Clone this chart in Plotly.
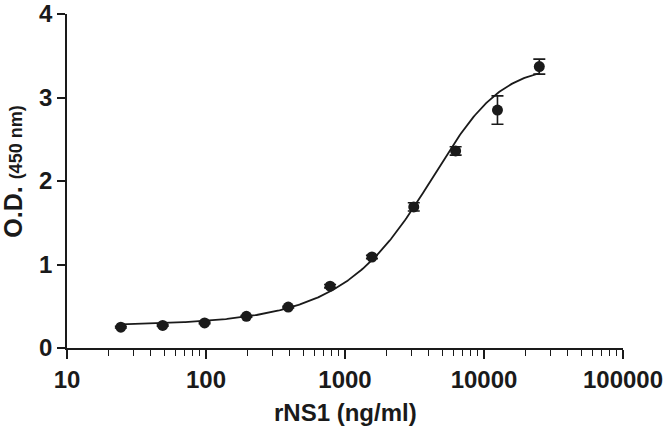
import numpy as np
import plotly.graph_objects as go

# Data
conc = [24.4, 48.8, 97.7, 195.3, 390.6, 781.3, 1562.5, 3125, 6250, 12500, 25000]
od = [0.25, 0.27, 0.30, 0.38, 0.49, 0.74, 1.09, 1.69, 2.36, 2.85, 3.37]
od_err = [0.01, 0.01, 0.01, 0.01, 0.01, 0.02, 0.02, 0.05, 0.05, 0.17, 0.09]
x_ticks = [10, 100, 1000, 10000, 100000]
y_ticks = [0, 1, 2, 3, 4]

# Five-parameter logistic fit parameters (estimated)
fit_bottom = 0.27
fit_top = 3.39
fit_c = 6250.0
fit_hill = 1.95
fit_asym = 0.5

xs = np.logspace(np.log10(conc[0]), np.log10(conc[-1]), 300)
ys = fit_bottom + (fit_top - fit_bottom) / (1 + (fit_c / xs) ** fit_hill) ** fit_asym

INK = "#1a1a1a"
FONT = "Liberation Sans, Arial, sans-serif"

fig = go.Figure()
fig.add_trace(go.Scatter(x=xs, y=ys, mode="lines",
                         line=dict(color=INK, width=1.8), hoverinfo="skip"))
fig.add_trace(go.Scatter(x=conc, y=od, mode="markers",
                         marker=dict(color=INK, size=11),
                         error_y=dict(type="data", array=od_err, color=INK,
                                      thickness=1.6, width=6)))

fig.update_layout(
    width=666, height=430,
    margin=dict(l=67, r=43, t=14, b=82),
    paper_bgcolor="white", plot_bgcolor="white",
    showlegend=False,
    font=dict(family=FONT, color=INK),
)
fig.update_xaxes(
    type="log", range=[1, 5], automargin=False,
    showgrid=False, zeroline=False,
    showline=True, linecolor=INK, linewidth=1.6,
    ticks="outside", ticklen=9, tickwidth=1.6, tickcolor=INK,
    tickvals=x_ticks,
    ticktext=[f"<b>{v}</b>" for v in x_ticks],
    tickfont=dict(size=24, family=FONT, color=INK),
    minor=dict(ticks="outside", ticklen=6, tickwidth=1.4, tickcolor=INK,
               tickvals=[v * d for d in x_ticks[:-1] for v in range(2, 10)]),
)
fig.update_yaxes(
    range=[0, 4], automargin=False,
    showgrid=False, zeroline=False,
    showline=True, linecolor=INK, linewidth=1.6,
    ticks="outside", ticklen=8, tickwidth=1.6, tickcolor=INK,
    tickvals=y_ticks,
    ticktext=[f"<b>{v}</b>" for v in y_ticks],
    tickfont=dict(size=24, family=FONT, color=INK),
)

fig.add_annotation(
    text="<b>rNS1 (ng/ml)</b>", xref="paper", yref="paper",
    x=0.5, y=-0.192, xanchor="center", yanchor="middle", showarrow=False,
    font=dict(size=24, family=FONT, color=INK),
)
fig.add_annotation(
    text="<b>O.D. <span style='font-size:18px'>(450 nm)</span></b>",
    xref="paper", yref="paper", x=-0.097, y=0.528,
    xanchor="center", yanchor="middle", textangle=-90, showarrow=False,
    font=dict(size=25, family=FONT, color=INK),
)

fig.write_html("out.html", config={"displayModeBar": False},
               post_script="document.body.style.margin='0';")
